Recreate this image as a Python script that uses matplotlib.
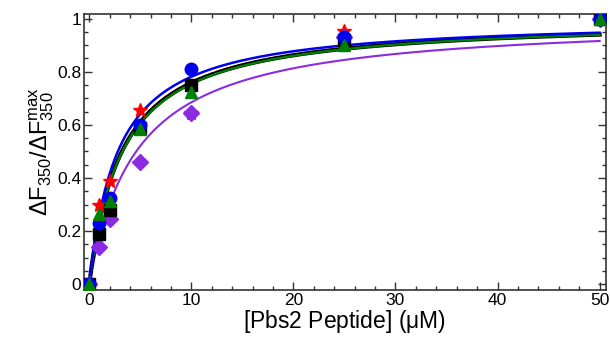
import numpy as np
import matplotlib
matplotlib.use('Agg')
import matplotlib.pyplot as plt
from matplotlib.ticker import MultipleLocator

plt.rcParams['font.family'] = ['Liberation Sans', 'DejaVu Sans']
plt.rcParams['mathtext.fontset'] = 'custom'
plt.rcParams['mathtext.rm'] = 'Liberation Sans'
plt.rcParams['mathtext.it'] = 'Liberation Sans'

# peptide concentrations (uM)
conc = [0, 1, 2, 5, 10, 25, 50]

# normalized fluorescence change
red_star = [0.0, 0.30, 0.39, 0.655, 0.645, 0.955, 1.0]
purple_dia = [0.0, 0.14, 0.245, 0.46, 0.645, 0.93, 1.0]
black_sq = [0.0, 0.19, 0.28, 0.59, 0.75, 0.92, 1.0]
blue_circ = [0.0, 0.23, 0.325, 0.60, 0.81, 0.93, 1.0]
green_tri = [0.0, 0.265, 0.315, 0.585, 0.725, 0.90, 1.0]

# fitted Kd values (uM) for the hyperbolic binding curves
kd_red = 3.1
kd_purple = 4.6
kd_black = 3.2
kd_blue = 2.8
kd_green = 3.25

xfit = np.linspace(0, 50, 400)
def binding(kd):
    return xfit / (kd + xfit)

fig = plt.figure(figsize=(6.1, 3.38), dpi=100)
ax = fig.add_axes([0.138, 0.142, 0.855, 0.817])

ax.plot(xfit, binding(kd_purple), color='#8a2be2', lw=1.5, zorder=2)
ax.plot(xfit, binding(kd_red), color='red', lw=1.0, ls='--', zorder=2)
ax.plot(xfit, binding(kd_black), color='black', lw=3.0, zorder=2)
ax.plot(xfit, binding(kd_green), color='#008000', lw=1.6, zorder=3)
ax.plot(xfit, binding(kd_blue), color='#0000ee', lw=1.8, zorder=3)

ax.plot(conc, red_star, '*', color='red', ms=10, mec='red', zorder=4)
ax.plot(conc, purple_dia, 'D', color='#8a2be2', ms=8, zorder=4)
ax.plot(conc, black_sq, 's', color='black', ms=8, zorder=5)
ax.plot(conc, blue_circ, 'o', color='#0000ee', ms=9, zorder=6)
ax.plot(conc, green_tri, '^', color='#008000', ms=9, zorder=7)

ax.set_xlim(-0.5, 50.6)
ax.set_ylim(-0.022, 1.018)

ax.xaxis.set_minor_locator(MultipleLocator(2))
ax.yaxis.set_minor_locator(MultipleLocator(0.05))
ax.set_xticks([0, 10, 20, 30, 40, 50])
ax.set_xticklabels(['0', '10', '20', '30', '40', '50'])
ax.set_yticks([0, 0.2, 0.4, 0.6, 0.8, 1.0])
ax.set_yticklabels(['0', '0.2', '0.4', '0.6', '0.8', '1'])

ax.tick_params(which='both', direction='in', top=True, right=True,
               labelsize=12.5, width=1.0, color='#333333')
ax.tick_params(which='major', length=6, pad=2)
ax.tick_params(which='minor', length=3)
for s in ax.spines.values():
    s.set_linewidth(1.2)
    s.set_color('#333333')

ax.set_xlabel(r'[Pbs2 Peptide] ($\mu$M)', fontsize=16.5, labelpad=0)
ax.set_ylabel(r'$\Delta$F$_{350}$/$\Delta$F$_{350}^{max}$', fontsize=17, labelpad=1)

fig.savefig('out.png', dpi=100)
